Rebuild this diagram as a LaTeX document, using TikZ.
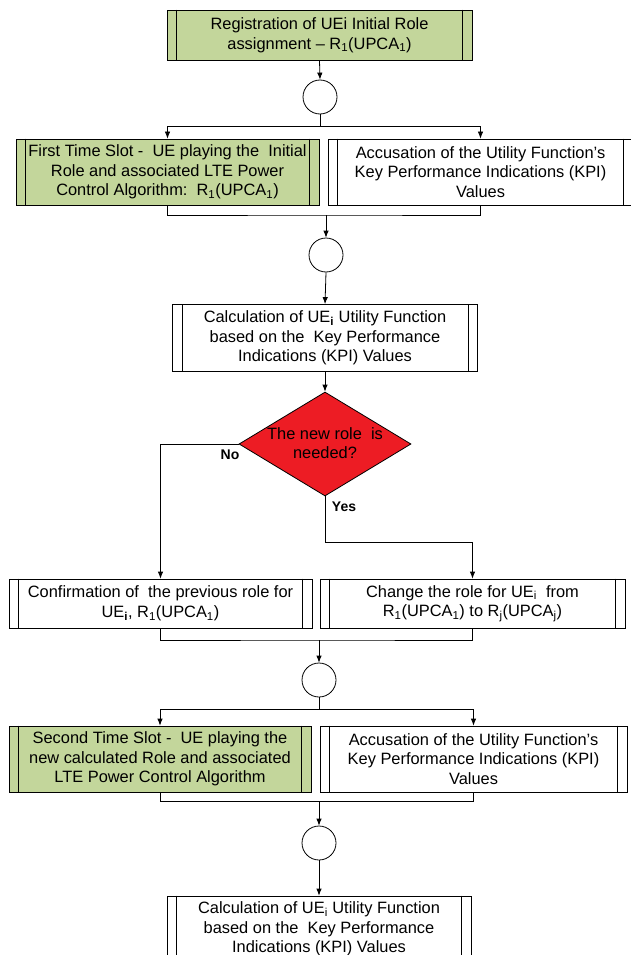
\documentclass[tikz,border=0pt]{standalone}
\usepackage{fontspec}
\setmainfont{Liberation Sans}
\usetikzlibrary{shapes.geometric,arrows.meta}
\definecolor{boxgreen}{HTML}{C3D69B}
\definecolor{decred}{HTML}{ED1C24}
\begin{document}
\begin{tikzpicture}[x=1pt,y=-1pt,
  proc/.style={draw, line width=0.8pt, rectangle, align=center, inner sep=0pt,
    font=\fontsize{16.4}{19.6}\selectfont},
  greenbox/.style={proc, fill=boxgreen},
  junction/.style={circle, draw, line width=0.8pt, minimum size=34pt, inner sep=0pt, fill=white},
  arr/.style={line width=0.8pt, -{Latex[length=7pt,width=5.5pt]}},
  conn/.style={line width=0.8pt},
  lbl/.style={font=\fontsize{14}{16}\selectfont\bfseries},
  decision/.style={diamond, draw, line width=0.8pt, fill=decred, inner sep=0pt,
    minimum width=172pt, minimum height=104pt}]
\useasboundingbox (0,0) rectangle (630,955);

% nodes
\node[greenbox, minimum width=305pt, minimum height=50pt] (b1) at (319.5,35)
  {Registration of UEi Initial Role\\assignment -- R\textsubscript{1}(UPCA\textsubscript{1})};
\node[junction] (c1) at (320,97) {};
\node[greenbox, minimum width=303pt, minimum height=66pt] (b2l) at (167.5,172)
  {First Time Slot -\ \ UE playing the\ \ Initial\\Role and associated LTE Power\\Control Algorithm:\ \ R\textsubscript{1}(UPCA\textsubscript{1})};
\node[proc, minimum width=305pt, minimum height=66pt] (b2r) at (480.5,172)
  {Accusation of the Utility Function's\\Key Performance Indications (KPI)\\Values};
\node[junction] (c2) at (326,255) {};
\node[proc, minimum width=305pt, minimum height=67pt] (b3) at (325,338)
  {Calculation of UE\textsubscript{\textbf{i}} Utility Function\\based on the\ \ Key Performance\\Indications (KPI) Values};
\node[decision] (d) at (325,444) {};
\node[font=\fontsize{16.4}{19.6}\selectfont, align=center] (dt) at (325,443) {The new role\ \ is\\needed?};
\node[lbl] (no) at (230,455) {No};
\node[lbl] (yes) at (344,507) {Yes};
\node[proc, minimum width=303pt, minimum height=49pt] (b4l) at (160.5,603.5)
  {Confirmation of\ \ the previous role for\\UE\textsubscript{\textbf{i}}, R\textsubscript{1}(UPCA\textsubscript{1})};
\node[proc, minimum width=305pt, minimum height=49pt] (b4r) at (472.5,603.5)
  {Change the role for UE\textsubscript{i}\ \ from\\R\textsubscript{1}(UPCA\textsubscript{1}) to R\textsubscript{j}(UPCA\textsubscript{j})};
\node[junction] (c3) at (319,680) {};
\node[greenbox, minimum width=302pt, minimum height=66pt] (b5l) at (160,759)
  {Second Time Slot -\ \ UE playing the\\new calculated Role and associated\\LTE Power Control Algorithm};
\node[proc, minimum width=307pt, minimum height=66pt] (b5r) at (473.5,759)
  {Accusation of the Utility Function's\\Key Performance Indications (KPI)\\Values};
\node[junction] (c4) at (319,843) {};
\node[proc, minimum width=304pt, minimum height=66pt] (b6) at (319,929)
  {Calculation of UE\textsubscript{i} Utility Function\\based on the\ \ Key Performance\\Indications (KPI) Values};

% inner vertical lines of the process boxes
\foreach \n in {b1,b2l,b2r,b3,b4l,b4r,b5l,b5r,b6}{
  \draw[conn] ([xshift=10pt]\n.north west) -- ([xshift=10pt]\n.south west);
  \draw[conn] ([xshift=-10pt]\n.north east) -- ([xshift=-10pt]\n.south east);
}

% junction coordinates
\coordinate (j1) at (320,126);
\coordinate (j2) at (326,215);
\coordinate (y1) at (325,542);
\coordinate (j4) at (319,640);
\coordinate (j5) at (319,709);
\coordinate (j6) at (319,801);

% connectors
\draw[arr] (b1.south) -- (c1.north);
\draw[conn] (c1.south) -- (j1);
\draw[arr] (j1) -| (b2l.north);
\draw[arr] (j1) -| (b2r.north);
\draw[conn] (b2l.south) |- (j2) -| (b2r.south);
\draw[arr] (j2) -- (c2.north);
\draw[arr] (c2.south) -- (b3.north);
\draw[arr] (b3.south) -- (d.north);
\draw[arr] (d.west) -| (b4l.north);
\draw[arr] (d.south) -- (y1) -| (b4r.north);
\draw[conn] (b4l.south) |- (j4) -| (b4r.south);
\draw[arr] (j4) -- (c3.north);
\draw[conn] (c3.south) -- (j5);
\draw[arr] (j5) -| (b5l.north);
\draw[arr] (j5) -| (b5r.north);
\draw[conn] (b5l.south) |- (j6) -| (b5r.south);
\draw[arr] (j6) -- (c4.north);
\draw[arr] (c4.south) -- (b6.north);
\end{tikzpicture}
\end{document}
